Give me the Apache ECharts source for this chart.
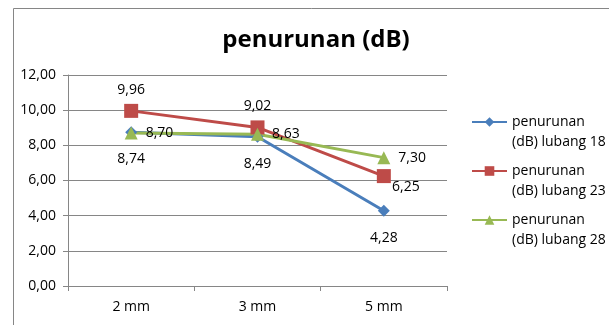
<!DOCTYPE html>
<html><head><meta charset="utf-8">
<script src="https://cdn.jsdelivr.net/npm/echarts@6/dist/echarts.min.js"></script>
<style>html,body{margin:0;padding:0;background:#fff}#c{width:609px;height:325px}</style>
</head><body><div id="c"></div>
<script>
var categories = ['2 mm', '3 mm', '5 mm'];
var seriesNames = ['penurunan (dB) lubang 18', 'penurunan (dB) lubang 23', 'penurunan (dB) lubang 28'];
var lubang18 = [8.74, 8.49, 4.28];
var lubang23 = [9.96, 9.02, 6.25];
var lubang28 = [8.70, 8.63, 7.30];
var yTicks = [0, 2, 4, 6, 8, 10, 12];

var FONT = 'Open Sans';
function fmt(v){ return v.toFixed(2).replace('.', ','); }
var chart = echarts.init(document.getElementById('c'), null, {renderer:'canvas'});
chart.setOption({
  animation: false,
  textStyle: {fontFamily: FONT},
  title: {text: 'penurunan (dB)', left: 311, top: 23, textAlign: 'center',
    textStyle: {fontFamily: FONT, fontSize: 24, fontWeight: 'bold', color: '#000'}},
  graphic: [{type:'rect', shape:{x:13.5, y:8.5, width:640, height:340}, style:{fill:'none', stroke:'#868686', lineWidth:1}, silent:true}],
  legend: {orient:'vertical', left: 466, top: 87, itemWidth: 35, itemHeight: 12, itemGap: -11,
    data: seriesNames,
    formatter: function(n){ return '\u00a0\n' + n.replace('(dB)', '\n(dB)'); },
    textStyle: {fontFamily: FONT, fontSize: 14, color:'#000', lineHeight: 20}},
  grid: {left: 68, right: 162, top: 75, bottom: 39},
  xAxis: {type:'category', data: categories, boundaryGap: true,
    axisLine:{lineStyle:{color:'#868686'}},
    axisTick:{show:true, length:5, lineStyle:{color:'#868686'}},
    axisLabel:{fontFamily: FONT, fontSize:14, color:'#000', margin:14}},
  yAxis: {type:'value', min:0, max:12, interval:2,
    axisLine:{show:true, lineStyle:{color:'#868686'}},
    axisTick:{show:true, length:5, lineStyle:{color:'#868686'}},
    splitLine:{lineStyle:{color:'#868686'}},
    axisLabel:{fontFamily: FONT, fontSize:14, color:'#000', margin:12, formatter: function(v){ return fmt(v); }}},
  series: [
    {name: seriesNames[0], type:'line', data: lubang18, symbol:'diamond', symbolSize:12,
      itemStyle:{color:'#4A7EBB'}, lineStyle:{width:3, color:'#4A7EBB'},
      label:{show:true, position:'bottom', distance:14, fontFamily:FONT, fontSize:14, color:'#000', formatter:function(p){return fmt(p.value);}}},
    {name: seriesNames[1], type:'line', data: lubang23, symbol:'rect', symbolSize:14,
      itemStyle:{color:'#BE4B48'}, lineStyle:{width:3, color:'#BE4B48'},
      label:{show:true, position:'top', distance:7, fontFamily:FONT, fontSize:14, color:'#000', formatter:function(p){return fmt(p.value);}},
      labelLayout: function(p){ if(p.dataIndex===2){ return {dx: 22, dy: 32}; } return {}; }},
    {name: seriesNames[2], type:'line', data: lubang28, symbol:'triangle', symbolSize:13,
      itemStyle:{color:'#98B954'}, lineStyle:{width:3, color:'#98B954'},
      label:{show:true, position:'right', distance:8, fontFamily:FONT, fontSize:14, color:'#000', formatter:function(p){return fmt(p.value);}}}
  ]
});
</script></body></html>
